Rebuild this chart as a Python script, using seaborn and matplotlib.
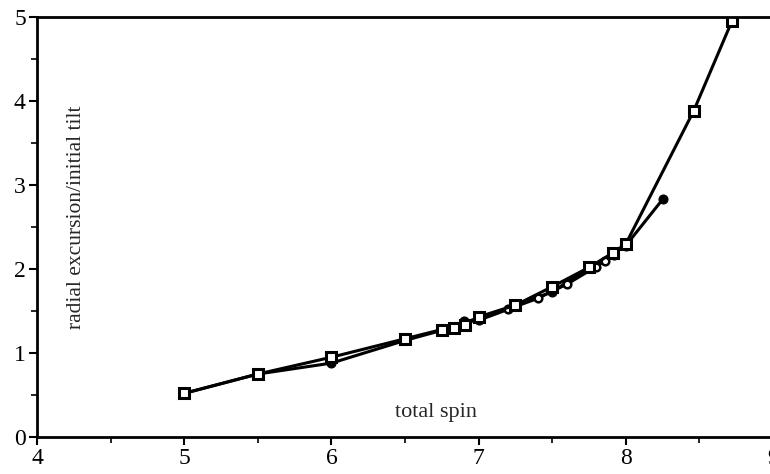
import numpy as np
import pandas as pd
import seaborn as sns
import matplotlib
matplotlib.use("Agg")
import matplotlib.pyplot as plt
from matplotlib.ticker import MultipleLocator

# series
spin_a = [5.0, 5.5, 6.0, 6.5, 6.75, 6.83, 6.91, 7.0, 7.25, 7.5, 7.75, 7.91, 8.0, 8.46, 8.72]
exc_a = [0.52, 0.75, 0.95, 1.17, 1.28, 1.30, 1.33, 1.43, 1.57, 1.79, 2.02, 2.19, 2.30, 3.88, 4.95]

spin_b = [5.0, 5.5, 6.0, 6.5, 6.75, 7.0, 7.25, 7.5, 7.75, 8.0, 8.25]
exc_b = [0.52, 0.75, 0.88, 1.15, 1.27, 1.42, 1.56, 1.73, 2.01, 2.28, 2.83]

spin_c = [6.9, 7.0, 7.2, 7.4, 7.6, 7.8, 7.86, 7.92]
exc_c = [1.38, 1.39, 1.52, 1.65, 1.82, 2.03, 2.10, 2.17]

x_ticks = [4, 5, 6, 7, 8, 9]
y_ticks = [0, 1, 2, 3, 4, 5]

sns.set_style("ticks")
plt.rcParams['font.family'] = ['Liberation Serif', 'DejaVu Serif']

fig = plt.figure(figsize=(7.7, 4.74), dpi=100)
ax = fig.add_axes([0.048, 0.078, 0.956, 0.886])

df_a = pd.DataFrame({'spin': spin_a, 'exc': exc_a})
df_b = pd.DataFrame({'spin': spin_b, 'exc': exc_b})
df_c = pd.DataFrame({'spin': spin_c, 'exc': exc_c})

sns.lineplot(data=df_b, x='spin', y='exc', ax=ax, color='black', lw=2.2,
             marker='o', ms=6.5, mfc='black', mec='black', sort=False, estimator=None)
sns.lineplot(data=df_c, x='spin', y='exc', ax=ax, color='black', lw=2.2,
             marker='o', ms=5.5, mfc='white', mec='black', mew=1.8, sort=False, estimator=None)
sns.lineplot(data=df_a, x='spin', y='exc', ax=ax, color='black', lw=2.2,
             marker='s', ms=6.5, mfc='white', mec='black', mew=2.2, sort=False, estimator=None)

ax.set_xlim(4, 9)
ax.set_ylim(0, 5)
ax.set_xticks(x_ticks)
ax.set_yticks(y_ticks)
ax.xaxis.set_minor_locator(MultipleLocator(0.5))
ax.yaxis.set_minor_locator(MultipleLocator(0.5))
ax.tick_params(which='major', length=6, width=1.5, labelsize=17, color='black', labelcolor='black', pad=2)
ax.tick_params(which='minor', length=4, width=1.2, color='black')
ax.set_xlabel('')
ax.set_ylabel('')

for s in ax.spines.values():
    s.set_linewidth(2)
    s.set_color('black')

ax.text(6.71, 0.29, 'total spin', fontsize=16, ha='center', va='center')
ax.text(4.27, 2.62, 'radial excursion/initial tilt', fontsize=15.5, rotation=90,
        ha='center', va='center')

plt.savefig('out.png', dpi=100)
